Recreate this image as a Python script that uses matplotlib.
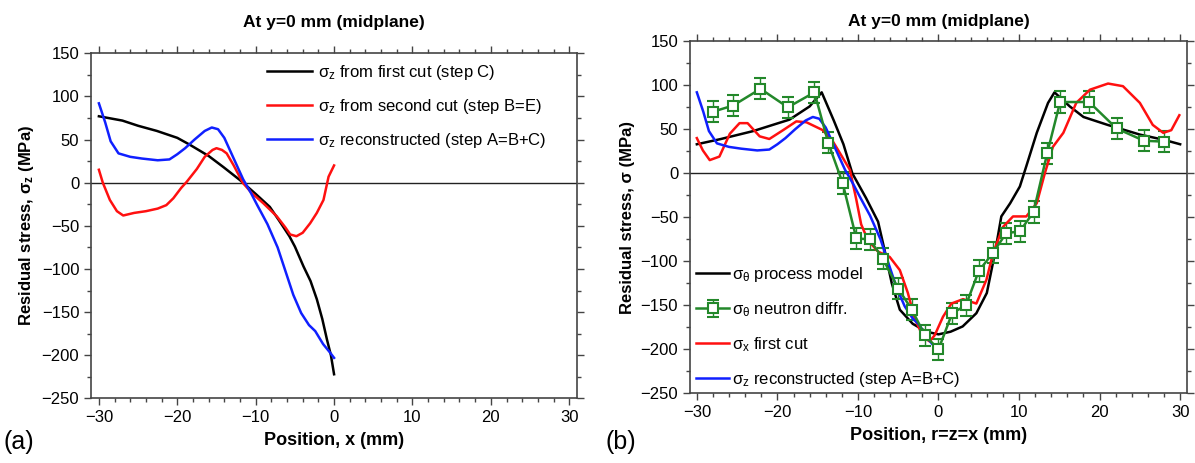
import numpy as np
import matplotlib
matplotlib.use("Agg")
import matplotlib.pyplot as plt
from matplotlib.ticker import MultipleLocator

plt.rcParams['font.family'] = ['Liberation Sans', 'DejaVu Sans']
plt.rcParams['mathtext.default'] = 'regular'

# ---- panel (a) data ----
black_a_x = [-30, -27, -25, -22.6, -20, -18.4, -16, -14.1, -12, -10, -8.2, -7, -5.7, -5, -3.9, -3, -2.2, -1.5, -0.9, -0.4, 0]
black_a_y = [77, 72, 66, 60, 52, 44, 31, 18, 3, -13, -28, -44, -62, -74, -97, -114, -135, -158, -182, -200, -222]

red_a_x = [-30, -29.5, -28.6, -27.7, -26.9, -25.5, -24, -22.5, -21.4, -20.5, -19.5, -18.8, -17.5, -16.5, -15.5, -15,
           -14.3, -13.7, -12.8, -11.65, -10.5, -9, -7.3, -6.2, -5.6, -4.8, -4, -3.05, -2.2, -1.35, -0.7, 0]
red_a_y = [15, 0, -20, -33, -38, -35, -33, -30, -26, -18, -6, 1, 16, 30, 38, 40,
           38, 34, 20, 0, -12, -24, -39, -52, -60, -62, -58, -47, -35, -20, 7, 20]

blue_x = [-30, -29.2, -28.5, -27.5, -26, -24.5, -22.5, -21, -20, -19, -17.8, -16.5, -15.6, -14.8, -14, -13.2,
          -12.4, -11.6, -10.6, -9.8, -8.5, -7.2, -6.4, -5.2, -4.2, -3.2, -2.4, -1.4, -0.5, 0]
blue_y = [92, 70, 48, 34, 30, 28, 26, 27, 33, 40, 50, 60, 64, 62, 52, 36,
          20, 4, -12, -26, -48, -75, -97, -130, -151, -165, -172, -187, -197, -203]

# ---- panel (b) data ----
model_x = [-30, -27, -23, -18.5, -16, -14.5, -13, -11.8, -10.7, -9, -7.5, -6.7, -5.8, -4.8, -3.2, -1.5, 0,
           1.5, 3, 4.7, 6, 7, 7.8, 8.9, 10.1, 10.9, 12.2, 13.6, 14.4, 16.3, 18, 21, 25, 28, 30]
model_y = [33, 39, 48, 61, 76, 92, 60, 33, 0, -28, -55, -87, -125, -155, -171, -180, -183,
           -180, -174, -159, -136, -91, -49, -34, -15, 8, 46, 80, 92, 76, 64, 55, 44, 38, 33]

nd_x = [-28, -25.5, -22.1, -18.7, -15.4, -13.7, -11.9, -10.2, -8.55, -6.9, -5.0, -3.3, -1.7, 0,
        1.7, 3.4, 5.0, 6.8, 8.4, 10.1, 11.8, 13.5, 15.1, 18.7, 22.1, 25.5, 28.0]
nd_y = [70, 77, 96, 75, 92, 35, -11, -74, -75, -97, -131, -155, -184, -200,
        -159, -150, -111, -90, -68, -66, -44, 23, 81, 81, 51, 37, 36]
nd_err = [12] * len(nd_x)

cut_x = [-30, -29.25, -28.4, -27.2, -25.9, -24.7, -23.7, -22.2, -21, -19.3, -17.65, -16.4, -14.35, -13.1,
         -12.5, -11.0, -10.2, -9.6, -8.76, -7.5, -6.06, -4.8, -3.8, -2.96, -1.9, -1.1, -0.47, 0.56, 1.6,
         3.05, 4.7, 5.95, 6.77, 8.0, 9.25, 10.9, 12.2, 13.2, 14.2, 15.5, 17.1, 18.8, 21.05, 22.9, 25.0,
         26.6, 27.9, 28.9, 29.9]
cut_y = [40, 26, 15, 19, 45, 57, 57, 42, 39, 49, 59, 58, 49, 36,
         27, 4, -30, -58, -76, -89, -95, -110, -136, -165, -186, -191, -184, -163, -148,
         -143, -148, -121, -91, -61, -49, -49, -34, 0, 30, 46, 80, 95, 102, 99, 80,
         55, 46, 49, 66]

green = '#23882a'
fig = plt.figure(figsize=(11.95, 4.63), dpi=100)
ax1 = fig.add_axes([0.0762, 0.1395, 0.4067, 0.7454])
ax2 = fig.add_axes([0.5774, 0.1505, 0.4159, 0.7603])


def style(ax, xl):
    ax.set_xlim(xl)
    ax.set_ylim(-250, 150)
    ax.xaxis.set_major_locator(MultipleLocator(10))
    ax.xaxis.set_minor_locator(MultipleLocator(2))
    ax.yaxis.set_major_locator(MultipleLocator(50))
    ax.yaxis.set_minor_locator(MultipleLocator(25))
    ax.tick_params(which='both', direction='out', top=True, right=True, labelsize=12, color='#444444')
    ax.tick_params(which='major', length=5, width=1)
    ax.tick_params(which='minor', length=3, width=1)
    for s in ax.spines.values():
        s.set_color('#444444')
        s.set_linewidth(1.2)
    ax.axhline(0, color='#222222', lw=1)


style(ax1, (-31, 31))
ax1.plot(black_a_x, black_a_y, color='black', lw=1.8, label='σ$_z$ from first cut (step C)')
ax1.plot(red_a_x, red_a_y, color='#ff1010', lw=1.8, label='σ$_z$ from second cut (step B=E)')
ax1.plot(blue_x, blue_y, color='#1020ff', lw=1.8, label='σ$_z$ reconstructed (step A=B+C)')
ax1.set_title('At y=0 mm (midplane)', fontsize=12.5, fontweight='bold', pad=19)
ax1.set_xlabel('Position, x (mm)', fontsize=13, fontweight='bold', labelpad=5)
ax1.set_ylabel('Residual stress, σ$_z$ (MPa)', fontsize=12, fontweight='bold')
ax1.legend(loc='upper left', bbox_to_anchor=(0.362, 0.972), frameon=False, fontsize=12,
           handlelength=2.7, handletextpad=0.35, labelspacing=0.9, borderpad=0, borderaxespad=0)

style(ax2, (-30.85, 30.85))
h_model, = ax2.plot(model_x, model_y, color='black', lw=1.8)
h_nd = ax2.errorbar(nd_x, nd_y, yerr=nd_err, color=green, lw=1.8, marker='s', ms=7, mfc='white', mec=green,
                    mew=1.5, capsize=4, elinewidth=1, capthick=1)
h_cut, = ax2.plot(cut_x, cut_y, color='#ff1010', lw=1.8)
h_rec, = ax2.plot(blue_x, blue_y, color='#1020ff', lw=1.8)
ax2.set_title('At y=0 mm (midplane)', fontsize=12.5, fontweight='bold', pad=11)
ax2.set_xlabel('Position, r=z=x (mm)', fontsize=13, fontweight='bold', labelpad=5)
ax2.set_ylabel('Residual stress, σ (MPa)', fontsize=12, fontweight='bold')
ax2.legend([h_model, h_nd, h_cut, h_rec],
           [r'σ$_\theta$ process model', r'σ$_\theta$ neutron diffr.', 'σ$_x$ first cut',
            'σ$_z$ reconstructed (step A=B+C)'],
           loc='lower left', bbox_to_anchor=(0.012, 0.012), frameon=False, fontsize=12,
           handlelength=2.0, handletextpad=0.15, labelspacing=0.98, borderpad=0, borderaxespad=0)

fig.text(0.003, 0.03, '(a)', fontsize=18)
fig.text(0.507, 0.03, '(b)', fontsize=18)

fig.savefig('out.png', dpi=100)
